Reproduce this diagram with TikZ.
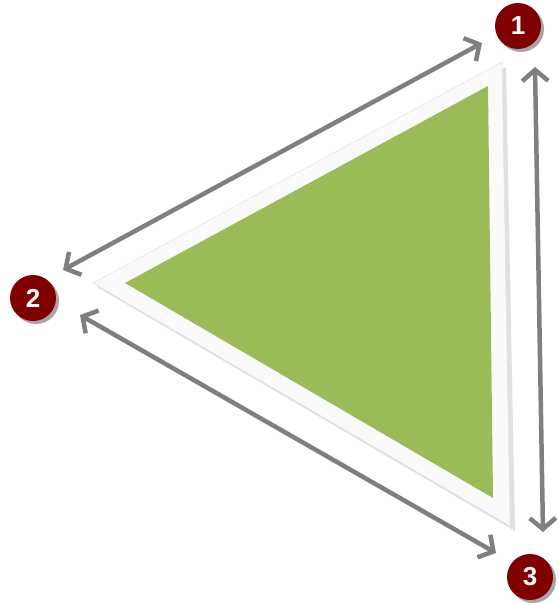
\documentclass[tikz,border=0pt]{standalone}
\usepackage{fontspec}
\setmainfont{Liberation Sans}
\usetikzlibrary{arrows.meta,shadows}
\definecolor{numred}{HTML}{800000}
\definecolor{leaf}{HTML}{9BBB59}
\definecolor{arrowgray}{HTML}{7F7F7F}
\tikzset{
  numcircle/.style={circle,fill=numred,minimum size=46pt,inner sep=0pt,text=white,
    font=\fontsize{26}{26}\selectfont\bfseries,
    drop shadow={shadow xshift=3pt,shadow yshift=-3pt,opacity=0.35,fill=black}},
  link/.style={draw=arrowgray,line width=4.5pt,
    {Straight Barb[length=11pt,width=26pt]}-{Straight Barb[length=11pt,width=26pt]}},
}
\begin{document}
\begin{tikzpicture}[x=1pt,y=-1pt]
\useasboundingbox (0,0) rectangle (558,605);
% outer white triangle with shadow
\fill[black,opacity=0.12] (97,287) -- (506,67) -- (515,531) -- cycle;
\filldraw[fill=white!98!black,draw=black!10,line width=0.6pt] (93,283) -- (502,62) -- (510,526) -- cycle;
\fill[leaf] (125,283) -- (488,86) -- (493,498) -- cycle;
% number circles
\node[numcircle] (n1) at (518,26) {1};
\node[numcircle] (n2) at (33,298) {2};
\node[numcircle] (n3) at (530,577) {3};
% arrow end points
\coordinate (a1) at (482,43);
\coordinate (a2) at (63,270);
\coordinate (b2) at (80,315);
\coordinate (b3) at (496,553);
\coordinate (c1) at (535,67);
\coordinate (c3) at (543,532);
\draw[link] (a1) -- (a2);
\draw[link] (b2) -- (b3);
\draw[link] (c1) -- (c3);
\end{tikzpicture}
\end{document}
